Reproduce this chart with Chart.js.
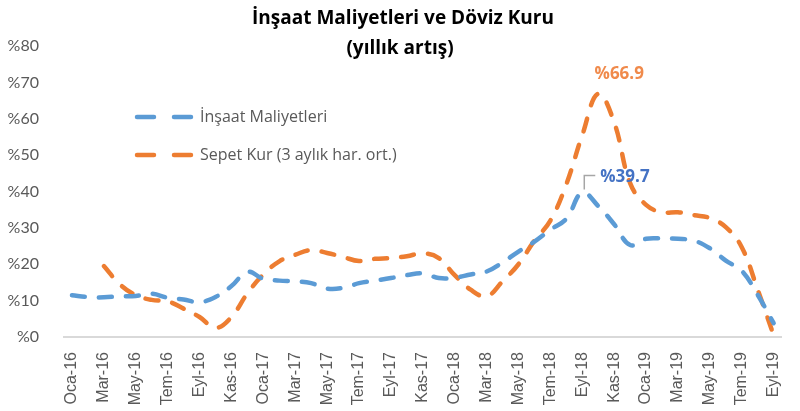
<!DOCTYPE html>
<html>
<head>
<meta charset="utf-8">
<script src="https://cdn.jsdelivr.net/npm/chart.js@4.4.0/dist/chart.umd.min.js"></script>
<style>
  html, body { margin: 0; padding: 0; background: #fff; }
  #wrap { width: 800px; height: 411px; position: relative; }
</style>
</head>
<body>
<div id="wrap"><canvas id="myChart"></canvas></div>
<script>
// months Oca-16 .. Eyl-19
var labels = ["Oca-16", "Şub-16", "Mar-16", "Nis-16", "May-16", "Haz-16", "Tem-16", "Ağu-16", "Eyl-16", "Eki-16", "Kas-16", "Ara-16",
    "Oca-17", "Şub-17", "Mar-17", "Nis-17", "May-17", "Haz-17", "Tem-17", "Ağu-17", "Eyl-17", "Eki-17", "Kas-17", "Ara-17",
    "Oca-18", "Şub-18", "Mar-18", "Nis-18", "May-18", "Haz-18", "Tem-18", "Ağu-18", "Eyl-18", "Eki-18", "Kas-18", "Ara-18",
    "Oca-19", "Şub-19", "Mar-19", "Nis-19", "May-19", "Haz-19", "Tem-19", "Ağu-19", "Eyl-19"];

var insaatMaliyet = [11.5, 11.0, 10.9, 11.2, 11.3, 11.9, 10.8, 10.3, 9.6, 11.0, 14.0, 17.9,
    16.0, 15.5, 15.3, 14.8, 13.3, 13.5, 14.8, 15.5, 16.2, 17.0, 17.5, 16.2,
    16.3, 17.2, 18.0, 20.5, 23.5, 26.2, 29.5, 32.5, 39.7, 36.0, 31.0, 25.3,
    27.0, 27.1, 27.0, 26.5, 24.4, 21.0, 18.2, 11.6, 3.8];

var sepetKur = [null, null, 19.5, 14.5, 11.5, 10.2, 9.8, 7.8, 5.5, 2.5, 5.5, 12.0,
    17.2, 20.8, 22.6, 23.9, 23.1, 22.0, 20.9, 21.5, 21.7, 22.2, 23.0, 21.7,
    17.0, 13.0, 11.2, 15.3, 20.0, 26.5, 32.0, 42.0, 55.5, 66.9, 59.0, 42.3,
    36.3, 34.3, 34.3, 33.5, 32.7, 30.2, 24.7, 13.0, 0.5];

var seriesNames = ["İnşaat Maliyetleri", "Sepet Kur (3 aylık har. ort.)"];
var yTicks = [0, 10, 20, 30, 40, 50, 60, 70, 80];

var blue = '#5B9BD5';
var orange = '#ED7D31';
var gray = '#595959';

// title, legend and peak labels drawn onto the canvas
var overlay = {
    id: 'overlay',
    afterDraw: function (chart) {
        var ctx = chart.ctx;
        var area = chart.chartArea;
        ctx.save();

        // title
        ctx.fillStyle = '#000';
        ctx.textAlign = 'center';
        ctx.textBaseline = 'middle';
        ctx.font = 'bold 19px "Open Sans"';
        ctx.fillText('İnşaat Maliyetleri ve Döviz Kuru', 403, 19);
        ctx.fillText('(yıllık artış)', 400, 49);

        // legend inside the plot
        var colors = [blue, orange];
        for (var i = 0; i < 2; i++) {
            var ly = area.top + 71 + i * 38;
            var lx = area.left + 73;
            ctx.strokeStyle = colors[i];
            ctx.lineWidth = 4.5;
            ctx.lineCap = 'round';
            ctx.beginPath();
            ctx.moveTo(lx, ly); ctx.lineTo(lx + 17, ly);
            ctx.moveTo(lx + 37, ly); ctx.lineTo(lx + 54, ly);
            ctx.stroke();
            ctx.fillStyle = gray;
            ctx.textAlign = 'left';
            ctx.font = '16px "Open Sans"';
            ctx.fillText(seriesNames[i], lx + 63, ly);
        }

        // peak labels
        var bIdx = insaatMaliyet.indexOf(Math.max.apply(null, insaatMaliyet));
        var oIdx = sepetKur.indexOf(Math.max.apply(null, sepetKur));
        var bp = chart.getDatasetMeta(0).data[bIdx];
        var op = chart.getDatasetMeta(1).data[oIdx];

        ctx.font = 'bold 17px "Open Sans"';
        ctx.textAlign = 'center';
        ctx.fillStyle = '#F08A4B';
        ctx.fillText('%' + sepetKur[oIdx].toFixed(1), op.x + 21, op.y - 19);

        ctx.strokeStyle = '#A6A6A6';
        ctx.lineWidth = 1.5;
        ctx.lineCap = 'butt';
        ctx.beginPath();
        ctx.moveTo(bp.x + 2, bp.y - 3);
        ctx.lineTo(bp.x + 2, bp.y - 17);
        ctx.lineTo(bp.x + 13, bp.y - 17);
        ctx.stroke();
        ctx.fillStyle = '#4472C4';
        ctx.textAlign = 'left';
        ctx.fillText('%' + insaatMaliyet[bIdx].toFixed(1), bp.x + 18, bp.y - 15);

        ctx.restore();
    }
};

var ctx = document.getElementById('myChart').getContext('2d');
var chart = new Chart(ctx, {
    type: 'line',
    data: {
        labels: labels,
        datasets: [
            {
                label: seriesNames[0],
                data: insaatMaliyet,
                borderColor: blue,
                borderWidth: 4.5,
                borderDash: [13, 14],
                borderCapStyle: 'round',
                tension: 0.4,
                pointRadius: 0,
                fill: false
            },
            {
                label: seriesNames[1],
                data: sepetKur,
                borderColor: orange,
                borderWidth: 4.5,
                borderDash: [13, 14],
                borderCapStyle: 'round',
                tension: 0.4,
                pointRadius: 0,
                fill: false
            }
        ]
    },
    options: {
        responsive: true,
        maintainAspectRatio: false,
        animation: false,
        layout: { padding: { top: 46, right: 14, left: 0, bottom: 0 } },
        plugins: {
            legend: { display: false },
            tooltip: { enabled: false }
        },
        scales: {
            x: {
                offset: true,
                grid: { display: false },
                border: { display: true, color: '#D9D9D9', width: 2 },
                ticks: {
                    autoSkip: false,
                    maxRotation: 90,
                    minRotation: 90,
                    padding: 7,
                    color: gray,
                    font: { family: 'Liberation Sans', size: 16 },
                    callback: function (val, i) { return i % 2 === 0 ? labels[i] : ''; }
                },
                afterFit: function (scale) { scale.height = 74; }
            },
            y: {
                min: 0,
                max: 80,
                grid: { display: false },
                border: { display: false },
                afterBuildTicks: function (scale) {
                    scale.ticks = yTicks.map(function (v) { return { value: v }; });
                },
                ticks: {
                    padding: 17,
                    color: gray,
                    font: { family: 'Lato', size: 16 },
                    callback: function (v) { return '%' + v; }
                },
                afterFit: function (scale) { scale.width = 64; }
            }
        }
    },
    plugins: [overlay]
});
</script>
</body>
</html>
